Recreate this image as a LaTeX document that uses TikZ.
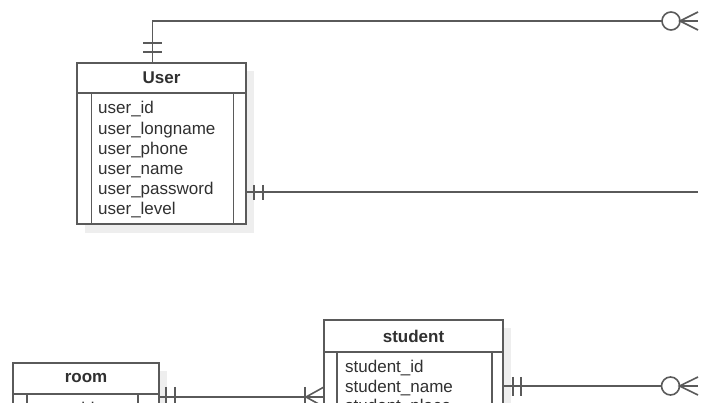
\documentclass[tikz,border=0pt]{standalone}
\usepackage{fontspec}
\setmainfont{Liberation Sans}
\usetikzlibrary{positioning}
\definecolor{linegray}{HTML}{5A5A5A}
\definecolor{textgray}{HTML}{303030}
\definecolor{shadowgray}{HTML}{EEEEEE}
\tikzset{
  erline/.style={draw=linegray, line width=1.6pt},
  tablehead/.style={erline, fill=white, inner sep=0pt, outer sep=0pt, font=\fontsize{17}{20}\selectfont\bfseries, text=textgray},
  tablebody/.style={erline, fill=white, inner sep=0pt, outer sep=0pt},
  field/.style={anchor=west, inner sep=0pt, text height=12pt, text depth=4pt, font=\fontsize{17}{20}\selectfont, text=textgray},
  optcircle/.style={erline, circle, fill=white, minimum size=18pt, inner sep=0pt, outer sep=0pt},
}

\begin{document}
\begin{tikzpicture}[x=1pt,y=-1pt]
\useasboundingbox (0,0) rectangle (702,403);
\clip (0,0) rectangle (702,403);

% shadows
\fill[shadowgray] (85,71) rectangle (254,233);
\fill[shadowgray] (332,328) rectangle (511,430);
\fill[shadowgray] (21,371) rectangle (167,430);

% User
\node[tablehead, minimum width=169pt, minimum height=30pt, anchor=north west] (user) at (77,63) {User};
\node[tablebody, minimum width=169pt, minimum height=131pt, below=0pt of user] (userbody) {};
\draw[erline] ([xshift=14.5pt]userbody.north west) -- ([xshift=14.5pt]userbody.south west);
\draw[erline] ([xshift=-12.5pt]userbody.north east) -- ([xshift=-12.5pt]userbody.south east);
\node[field] (userid) at (98,110) {user\_id};
\node[field] (userlongname) at (98,130.5) {user\_longname};
\node[field] (userphone) at (98,150.5) {user\_phone};
\node[field] (username) at (98,171) {user\_name};
\node[field] (userpassword) at (98,191) {user\_password};
\node[field] (userlevel) at (98,211) {user\_level};

% student
\node[tablehead, minimum width=179pt, minimum height=32pt, anchor=north west] (student) at (324,320) {student};
\node[tablebody, minimum width=179pt, minimum height=100pt, below=0pt of student] (studentbody) {};
\draw[erline] ([xshift=13pt]studentbody.north west) -- ([xshift=13pt]studentbody.south west);
\draw[erline] ([xshift=-11pt]studentbody.north east) -- ([xshift=-11pt]studentbody.south east);
\node[field] (studentid) at (345,369) {student\_id};
\node[field] (studentname) at (345,388.5) {student\_name};
\node[field] (studentplace) at (345,408) {student\_place};

% room
\node[tablehead, minimum width=146pt, minimum height=31pt, anchor=north west] (room) at (13,363) {room};
\node[tablebody, minimum width=146pt, minimum height=60pt, below=0pt of room] (roombody) {};
\draw[erline] ([xshift=14pt]roombody.north west) -- ([xshift=14pt]roombody.south west);
\draw[erline] ([xshift=-21pt]roombody.north east) -- ([xshift=-21pt]roombody.south east);
\node[field] (roomid) at (33,411) {room\_id};

% User -- top right (one and only one : zero or many)
\node[optcircle] (topcirc) at (671,21) {};
\draw[erline] ([xshift=-9pt]user.north) |- (topcirc.west);
\draw[erline] (143,43) -- (162,43);
\draw[erline] (143,52) -- (162,52);
\coordinate (topfoota) at (698,12);
\coordinate (topfootb) at (698,21);
\coordinate (topfootc) at (698,30);
\draw[erline] (topfoota) -- (topcirc.east) -- (topfootc);
\draw[erline] (topcirc.east) -- (topfootb);

% User -- right
\coordinate (userout) at (698,192);
\draw[erline] (userbody.east |- userout) -- (userout);
\draw[erline] (254,185) -- (254,200);
\draw[erline] (263,185) -- (263,200);

% room -- student (one and only one : one or many)
\coordinate (roomline) at (240,397);
\draw[erline] (roombody.east |- roomline) -- (studentbody.west |- roomline);
\draw[erline] (166,387) -- (166,407);
\draw[erline] (175,387) -- (175,407);
\draw[erline] (305,387) -- (305,407);
\draw[erline] (studentbody.west |- 0,387) -- (306,397) -- (studentbody.west |- 0,407);

% student -- right (one and only one : zero or many)
\node[optcircle] (stucirc) at (670.5,386) {};
\draw[erline] (studentbody.east |- stucirc) -- (stucirc.west);
\draw[erline] (513,377) -- (513,396);
\draw[erline] (521,377) -- (521,396);
\coordinate (stufoota) at (698,377);
\coordinate (stufootb) at (698,386);
\coordinate (stufootc) at (698,395);
\draw[erline] (stufoota) -- (stucirc.east) -- (stufootc);
\draw[erline] (stucirc.east) -- (stufootb);
\end{tikzpicture}
\end{document}
